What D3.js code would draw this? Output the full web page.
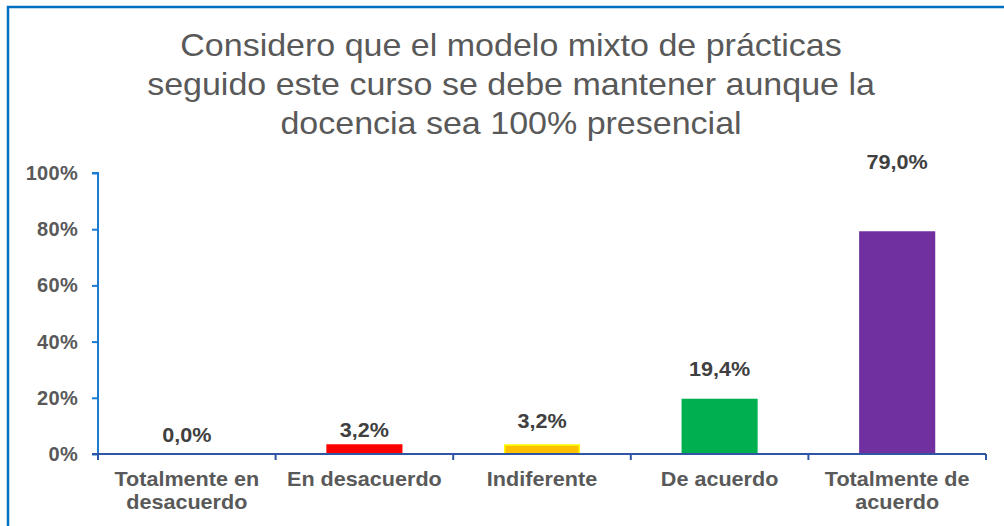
<!DOCTYPE html>
<html>
<head>
<meta charset="utf-8">
<script src="https://cdn.jsdelivr.net/npm/d3@7"></script>
<style>
body{margin:0;background:#fff;}
svg{display:block;font-family:"Liberation Sans",Arial,sans-serif;}
</style>
</head>
<body>
<div id="chart"></div>
<script>
// data
var categories = [["Totalmente en","desacuerdo"],["En desacuerdo"],["Indiferente"],["De acuerdo"],["Totalmente de","acuerdo"]];
var values = [0.0, 3.2, 3.2, 19.4, 79.0];
var barColors = ["#FFFFFF","#FF0000","#FFC000","#00B050","#7030A0"];
var barStrokes = ["none","#FF0000","#FFFF00","#00B050","#7030A0"];
var labelOffset = [19, 15, 24, 30, 70];
var yTicks = [0,20,40,60,80,100];
var titleLines = ["Considero que el modelo mixto de prácticas","seguido este curso se debe mantener aunque la","docencia sea 100% presencial"];

var w = 1004, h = 526;
var stretch = 1.08; // reference text is a bit wider than Arial
var svg = d3.select("#chart").append("svg").attr("width",w).attr("height",h);

// place a text at (px,py) widened horizontally
function place(sel, fx, fy){
  sel.attr("transform",function(d,i){return "translate("+fx(d,i)+","+fy(d,i)+") scale("+stretch+",1)";})
    .attr("x",0).attr("y",0);
}

// outer border (right and bottom fall outside the picture)
svg.append("path")
  .attr("d","M8,"+h+" L8,7 L"+(w+5)+",7")
  .attr("fill","none").attr("stroke","#0070C0").attr("stroke-width",2.5);

svg.selectAll(".title").data(titleLines).enter().append("text")
  .attr("class","title")
  .call(place,function(){return 511;},function(d,i){return 56+i*39;})
  .attr("text-anchor","middle")
  .attr("font-size","31.5px").attr("fill","#595959")
  .text(String);

var x0 = 98, x1 = 986, yTop = 173, yBot = 454;
var x = d3.scaleBand().domain(d3.range(values.length)).range([x0,x1]).paddingInner(0.58).paddingOuter(0.29);
var xc = d3.scaleBand().domain(d3.range(values.length)).range([x0,x1]);
var y = d3.scaleLinear().domain([0,100]).range([yBot,yTop]);

// bars
svg.selectAll(".bar").data(values).enter().append("rect")
  .attr("class","bar")
  .attr("x",function(d,i){return x(i);})
  .attr("width",x.bandwidth())
  .attr("y",function(d){return y(d);})
  .attr("height",function(d){return yBot-y(d);})
  .attr("fill",function(d,i){return barColors[i];})
  .attr("stroke",function(d,i){return barStrokes[i];})
  .attr("stroke-width",1.5);

// y axis
var yAxis = svg.append("g").attr("transform","translate("+x0+",0)")
  .call(d3.axisLeft(y).tickValues(yTicks).tickSize(6).tickPadding(14).tickFormat(function(d){return d+"%";}));
yAxis.select(".domain").attr("stroke","#1C7CD5").attr("stroke-width",2).attr("d","M-6,"+yTop+"H0V"+yBot);
yAxis.selectAll(".tick line").attr("stroke","#1C7CD5").attr("stroke-width",2);
yAxis.selectAll(".tick text").attr("fill","#595959").attr("font-size","20px").attr("font-weight","bold")
  .attr("letter-spacing","0.3px")
  .attr("font-family","'Liberation Sans',Arial,sans-serif");

// x axis
var xg = svg.append("g");
xg.append("line").attr("x1",x0-6).attr("x2",x1).attr("y1",yBot).attr("y2",yBot)
  .attr("stroke","#2F55A4").attr("stroke-width",2);
xg.selectAll(".xtick").data(d3.range(values.length+1)).enter().append("line")
  .attr("class","xtick")
  .attr("x1",function(d){return d<values.length?xc(d):x1;})
  .attr("x2",function(d){return d<values.length?xc(d):x1;})
  .attr("y1",yBot).attr("y2",yBot+6)
  .attr("stroke","#2F55A4").attr("stroke-width",2);

var catText = xg.selectAll(".cat").data(categories).enter().append("text")
  .attr("class","cat")
  .call(place,function(d,i){return xc(i)+xc.bandwidth()/2;},function(){return yBot+32;})
  .attr("text-anchor","middle")
  .attr("font-size","20px").attr("font-weight","bold").attr("fill","#595959");
catText.selectAll("tspan").data(function(d){return d;}).enter().append("tspan")
  .attr("x",0)
  .attr("dy",function(d,i){return i===0?0:23;})
  .text(String);

// data labels
svg.selectAll(".lbl").data(values).enter().append("text")
  .attr("class","lbl")
  .call(place,function(d,i){return x(i)+x.bandwidth()/2;},function(d,i){return y(d)-labelOffset[i]+7;})
  .attr("text-anchor","middle")
  .attr("font-size","20px").attr("font-weight","bold").attr("fill","#404040")
  .text(function(d){return d.toFixed(1).replace(".",",")+"%";});
</script>
</body>
</html>
